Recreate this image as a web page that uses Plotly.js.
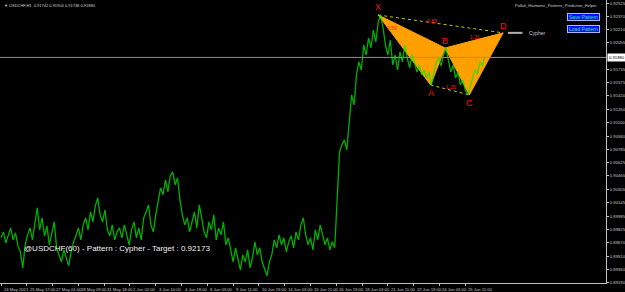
<!DOCTYPE html>
<html>
<head>
<meta charset="utf-8">
<script src="https://cdn.plot.ly/plotly-3.0.1.min.js"></script>
<style>html,body{margin:0;padding:0;background:#000;}#chart{width:625px;height:292px;}</style>
</head>
<body>
<div id="chart"></div>
<script>
// Hourly close estimates, one value every 3 bars (bar index = 3*k)
const closes = [
0.89727,0.89798,0.89667,0.89751,0.89846,0.89703,0.89786,0.89631,0.89560,0.89369,0.89643,
0.89763,0.89846,0.89703,0.89918,0.90085,0.89822,0.89965,0.89751,0.89870,0.89643,
0.89798,0.89918,0.89608,0.89524,0.89441,0.89584,0.89488,0.89393,0.89560,0.89679,
0.89751,0.89846,0.89703,0.89882,0.89965,0.89822,0.90037,0.89918,0.90108,0.90204,
0.90001,0.89918,0.90061,0.89822,0.89751,0.89882,0.89703,0.89798,0.89846,0.89727,
0.89882,0.89763,0.89643,0.89822,0.89918,0.89727,0.89846,0.89703,0.89965,0.90037,
0.90120,0.89882,0.89798,0.90001,0.90180,0.90323,0.90240,0.90418,0.90275,0.90466,
0.90514,0.90359,0.90442,0.90180,0.90001,0.89882,0.89965,0.89798,0.89918,0.90037,
0.89846,0.90120,0.89965,0.89798,0.89727,0.89918,0.89822,0.90001,0.89703,0.89846,
0.89763,0.89918,0.89643,0.89727,0.89584,0.89441,0.89608,0.89488,0.89345,0.89524,
0.89441,0.89584,0.89369,0.89488,0.89679,0.89524,0.89608,0.89441,0.89345,0.89274,
0.89441,0.89524,0.89703,0.89608,0.89763,0.89643,0.89727,0.89560,0.89679,0.89751,
0.89608,0.89798,0.89703,0.89882,0.89965,0.89763,0.89643,0.89727,0.89584,0.89822,
0.89703,0.89882,0.89763,0.89643,0.89727,0.89584,0.89679,0.89608,0.90180,0.90752,
0.90836,0.90896,0.90776,0.91158,0.91432,0.91313,0.91671,0.91826,0.91730,0.92028,
0.91909,0.92112,0.91993,0.92207,0.92064,0.92303,0.92386,0.92231,0.92028,0.91909,
0.92088,0.91790,0.91909,0.91730,0.91945,0.91826,0.92028,0.91873,0.91754,0.91909,
0.91826,0.91706,0.91790,0.91671,0.91730,0.91635,0.91706,0.91551,0.91706,0.91826,
0.91873,0.91778,0.91909,0.91993,0.91850,0.91706,0.91790,0.91635,0.91706,0.91551,
0.91611,0.91492,0.91432,0.91540,0.91635,0.91730,0.91683,0.91826,0.91778,0.91880
];
const barStep = 3;

const xTickLabels = ['24 May 2021','25 May 17:00','27 May 01:00','28 May 09:00','31 May 18:00','2 Jun 02:00','3 Jun 10:00','4 Jun 18:00','8 Jun 03:00','9 Jun 11:00','10 Jun 19:00','14 Jun 03:00','15 Jun 11:00','16 Jun 19:00','18 Jun 03:00','21 Jun 11:00','22 Jun 19:00','24 Jun 03:00','25 Jun 11:00'];
const xTickBars = [0,32,64,96,128,160,192,224,256,288,320,352,384,416,448,480,512,544,576];

const yTickVals = [0.92525,0.92370,0.92210,0.92055,0.91735,0.91575,0.91420,0.91260,0.91100,0.90940,0.90785,0.90625,0.90465,0.90305,0.90145,0.89985,0.89825,0.89670,0.89510,0.89350,0.89190];
const yTickText = ['0.92525','0.92370','0.92210','0.92055','0.91735','0.91575','0.91420','0.91260','0.91100','0.90940','0.90785','0.90625','0.90465','0.90305','0.90145','0.89985','0.89825','0.89670','0.89510','0.89350','0.89190'];

const patternLabels = ['X','A','B','C','D'];
const patternBars = [468, 533, 551, 581, 623];
const patternPrices = [0.92386, 0.91551, 0.91993, 0.91432, 0.92173];

const ratioText = ['0.59','0.89','1.31','1.25'];
const ratioBars = [485, 535, 588, 558];
const ratioPrices = [0.92231, 0.92315, 0.92124, 0.91528];

const currentPrice = 0.91880;
const currentText = '0.91880';
const patternName = 'Cypher';
const infoText = '@USDCHF(60) - Pattern : Cypher - Target : 0.92173';
const headerText = 'USDCHF,H1  0.91742 0.91904 0.91748 0.91880';
const indicatorName = 'Pollah_Harmonic_Patterns_Prediction_Helper';

const xs = closes.map((_, i) => i * barStep);
const P = patternBars, V = patternPrices;

const traces = [
  {x:[P[0],P[1],P[2],P[0]], y:[V[0],V[1],V[2],V[0]], mode:'lines', fill:'toself',
   fillcolor:'#ffa000', line:{color:'#ffa000', width:1}, hoverinfo:'skip'},
  {x:[P[2],P[3],P[4],P[2]], y:[V[2],V[3],V[4],V[2]], mode:'lines', fill:'toself',
   fillcolor:'#ffa000', line:{color:'#ffa000', width:1}, hoverinfo:'skip'},
  {x:[P[0],P[4]], y:[V[0],V[4]], mode:'lines', line:{color:'#c8c800', width:1, dash:'dot'}},
  {x:[P[1],P[3]], y:[V[1],V[3]], mode:'lines', line:{color:'#c8c800', width:1, dash:'dot'}},
  {x: xs, y: closes, mode:'lines', line:{color:'rgba(0,235,0,0.75)', width:1.3}},
  {x:[P[4]+6, P[4]+24], y:[V[4], V[4]], mode:'lines', line:{color:'#b0b0b0', width:2}}
];

const axisFont = {family:'Liberation Sans', size:4.2, color:'#c8c8c8'};
const ann = [];
const offs = [8, -8, 7, -8, 7];
patternLabels.forEach((t, i) => ann.push({x:P[i], y:V[i], text:t, showarrow:false,
  yshift:offs[i], font:{family:'Liberation Sans', size:9, color:'#ff1010'}}));
ratioText.forEach((t, i) => ann.push({x:ratioBars[i], y:ratioPrices[i], text:t, showarrow:false,
  font:{family:'Liberation Sans', size:5, color:'#ff2020'}}));
xTickLabels.forEach((t, i) => ann.push({x:xTickBars[i], xref:'x', yref:'paper', y:0, yanchor:'top',
  xanchor:'left', xshift:1, yshift:-1.5, text:t, showarrow:false, font:axisFont}));
ann.push({x:P[4]+30, y:V[4], text:patternName, showarrow:false, xanchor:'left',
  font:{family:'Liberation Sans', size:5, color:'#d0d0d0'}});
ann.push({xref:'paper', yref:'paper', x:22/606, y:1-248/283, xanchor:'left', yanchor:'middle',
  text:infoText, showarrow:false, font:{family:'Liberation Sans', size:8, color:'#f0f0f0'}});
ann.push({xref:'paper', yref:'paper', x:2/606, y:1-5/283, xanchor:'left', yanchor:'middle',
  text:'▼ ' + headerText, showarrow:false, font:{family:'Liberation Sans', size:4, color:'#d0d0d0'}});
ann.push({xref:'paper', yref:'paper', x:599/606, y:1-5/283, xanchor:'right', yanchor:'middle',
  text:indicatorName, showarrow:false, font:{family:'Liberation Sans', size:4, color:'#d0d0d0'}});
ann.push({xref:'paper', yref:'paper', x:567/606, y:1-17/283, xanchor:'left', yanchor:'middle',
  text:'Save Pattern', showarrow:false, width:31, height:6, bgcolor:'#0010ff', bordercolor:'#b0b0ff',
  borderwidth:1, borderpad:0, font:{family:'Liberation Sans', size:5, color:'#40e0a0'}});
ann.push({xref:'paper', yref:'paper', x:567/606, y:1-29.5/283, xanchor:'left', yanchor:'middle',
  text:'Load Pattern', showarrow:false, width:31, height:6, bgcolor:'#0010ff', bordercolor:'#b0b0ff',
  borderwidth:1, borderpad:0, font:{family:'Liberation Sans', size:5, color:'#40e0a0'}});
ann.push({xref:'paper', yref:'y', x:1, y:currentPrice, xanchor:'left', yanchor:'middle', xshift:1,
  text:currentText, showarrow:false, bgcolor:'#ffffff', borderpad:1,
  font:{family:'Liberation Sans', size:4.2, color:'#000000'}});

const layout = {
  width:625, height:292,
  margin:{l:0, r:19, t:0, b:9, pad:0},
  paper_bgcolor:'#000000', plot_bgcolor:'#000000',
  showlegend:false,
  xaxis:{range:[-1.24, 750.6], showgrid:false, zeroline:false, showline:true, linecolor:'#c0c0c0',
    ticks:'outside', ticklen:2, tickcolor:'#c0c0c0', tickvals:xTickBars, showticklabels:false,
    fixedrange:true},
  yaxis:{range:[0.89188, 0.925651], side:'right', showgrid:false, zeroline:false, showline:true,
    linecolor:'#c0c0c0', ticks:'outside', ticklen:2, tickcolor:'#c0c0c0',
    tickvals:yTickVals, ticktext:yTickText, tickfont:axisFont, fixedrange:true},
  shapes:[{type:'line', xref:'paper', x0:0, x1:1, yref:'y', y0:currentPrice, y1:currentPrice,
    line:{color:'#909090', width:1}}],
  annotations: ann
};
Plotly.newPlot('chart', traces, layout, {displayModeBar:false, staticPlot:true});
</script>
</body>
</html>
